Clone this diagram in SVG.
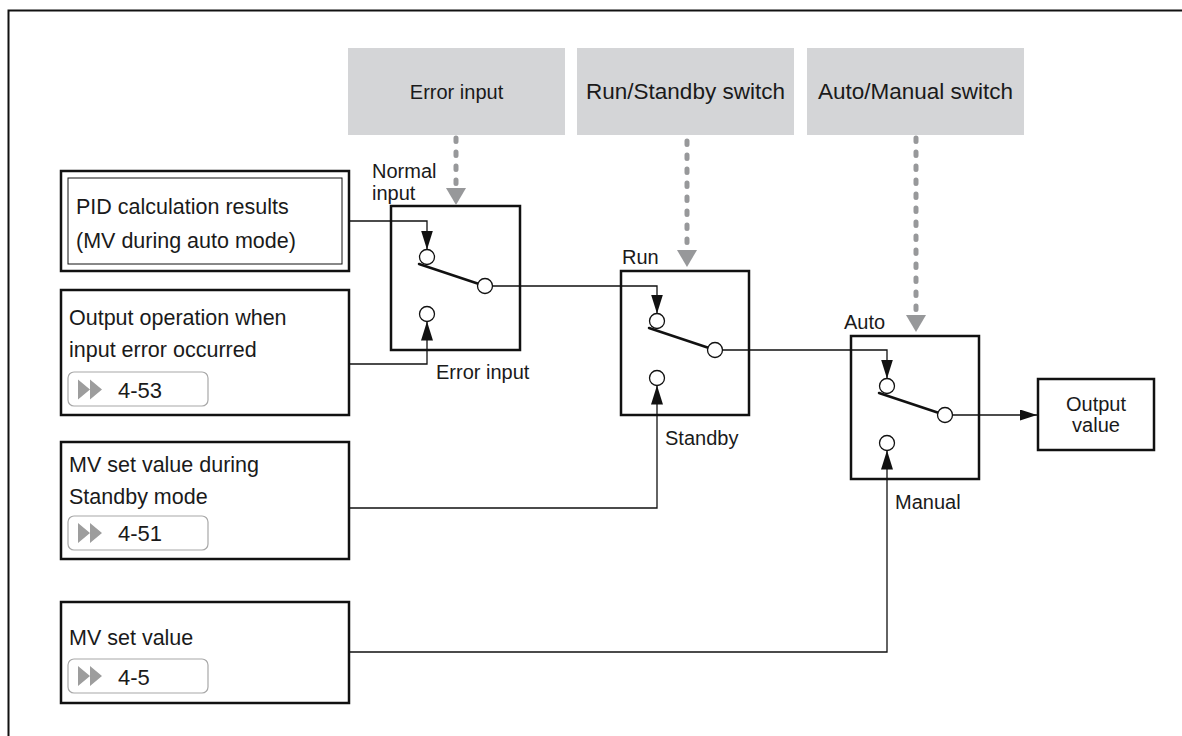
<svg xmlns="http://www.w3.org/2000/svg" width="1182" height="736" viewBox="0 0 1182 736">
<defs>
<style>
text{font-family:"Liberation Sans",Arial,sans-serif;fill:#1a1a1a}
.t20{font-size:20px}
.t22{font-size:21.5px}
.gbox{fill:#d4d5d7}
.box{fill:#fff;stroke:#111;stroke-width:2.5}
.thin{fill:none;stroke:#111;stroke-width:1}
.badge{fill:#fff;stroke:#a8a8a8;stroke-width:1.2}
.tri{fill:#9d9d9d}
.gdash{stroke:#97989a;stroke-width:5;stroke-linecap:round;stroke-dasharray:3.5 10.5;fill:none}
.garrow{fill:#97989a}
.conn{fill:none;stroke:#111;stroke-width:1.3}
.lever{stroke:#111;stroke-width:2.5;stroke-linecap:round}
.pin{fill:#fff;stroke:#111;stroke-width:1.3}
</style>
<marker id="arr" markerUnits="userSpaceOnUse" markerWidth="19" markerHeight="12" refX="19" refY="6" orient="auto">
<path d="M0,0 L19,6 L0,12 z" fill="#111"/>
</marker>
<marker id="arrS" markerUnits="userSpaceOnUse" markerWidth="17" markerHeight="11" refX="17" refY="5.5" orient="auto">
<path d="M0,0 L17,5.5 L0,11 z" fill="#111"/>
</marker>
</defs>
<rect width="1182" height="736" fill="#fff"/>
<g id="frame">
<path d="M8.5,736 V10.5 H1182" fill="none" stroke="#111" stroke-width="2"/>
</g>

<g id="sig-error">
<rect class="gbox" x="348" y="48" width="217" height="87"/>
<text class="t20" x="456.5" y="99" text-anchor="middle">Error input</text>
</g>
<g id="sig-runstandby">
<rect class="gbox" x="577" y="48" width="217" height="87"/>
<text x="685.5" y="99" text-anchor="middle" font-size="22.5">Run/Standby switch</text>
</g>
<g id="sig-automanual">
<rect class="gbox" x="807" y="48" width="217" height="87"/>
<text x="915.5" y="99" text-anchor="middle" font-size="22.5">Auto/Manual switch</text>
</g>

<g id="pid">
<rect class="box" x="61" y="171" width="288" height="100"/>
<rect class="thin" x="68" y="178" width="274" height="86"/>
<text class="t22" x="76" y="214">PID calculation results</text>
<text class="t22" x="76" y="248">(MV during auto mode)</text>
</g>
<g id="errop">
<rect class="box" x="61" y="290" width="288" height="125"/>
<text class="t22" x="69" y="325">Output operation when</text>
<text class="t22" x="69" y="357">input error occurred</text>
<rect class="badge" x="68" y="372" width="140" height="34" rx="6"/>
<path class="tri" d="M78,379.5 L90,389.5 L78,399.5 z M90,379.5 L102,389.5 L90,399.5 z"/>
<text x="118" y="398" font-size="22">4-53</text>
</g>
<g id="standbymv">
<rect class="box" x="61" y="442" width="288" height="117"/>
<text class="t22" x="69" y="472">MV set value during</text>
<text class="t22" x="69" y="504">Standby mode</text>
<rect class="badge" x="68" y="516" width="140" height="34" rx="6"/>
<path class="tri" d="M78,523 L90,533 L78,543 z M90,523 L102,533 L90,543 z"/>
<text x="118" y="541" font-size="22">4-51</text>
</g>
<g id="mvset">
<rect class="box" x="61" y="602" width="288" height="101"/>
<text class="t22" x="69" y="645">MV set value</text>
<rect class="badge" x="68" y="659" width="140" height="34" rx="6"/>
<path class="tri" d="M78,666 L90,676 L78,686 z M90,666 L102,676 L90,686 z"/>
<text x="118" y="685" font-size="22">4-5</text>
</g>

<g id="switch-error">
<rect class="box" x="391" y="206" width="129" height="144"/>
<text class="t20" x="372" y="178">Normal</text>
<text class="t20" x="372" y="199.5">input</text>
<text class="t20" x="436" y="379">Error input</text>
</g>
<g id="switch-run">
<rect class="box" x="621" y="271" width="128" height="144"/>
<text class="t20" x="622" y="264">Run</text>
<text class="t20" x="665" y="445">Standby</text>
</g>
<g id="switch-auto">
<rect class="box" x="851" y="336" width="128" height="143"/>
<text class="t20" x="844" y="329">Auto</text>
<text class="t20" x="895" y="509">Manual</text>
</g>
<g id="output">
<rect class="box" x="1038" y="379" width="116" height="71"/>
<text class="t20" x="1096" y="410.5" text-anchor="middle">Output</text>
<text class="t20" x="1096" y="431.5" text-anchor="middle">value</text>
</g>

<g id="connectors">
<path class="gdash" d="M456,138 V186"/>
<path class="garrow" d="M446,188 L466,188 L456,205 z"/>
<path class="gdash" d="M687,141 V248"/>
<path class="garrow" d="M677,250 L697,250 L687,267 z"/>
<path class="gdash" d="M916,138 V313"/>
<path class="garrow" d="M906,315 L926,315 L916,332 z"/>

<path class="conn" d="M349,221 H427 V249.5" marker-end="url(#arr)"/>
<path class="conn" d="M349,364 H427 V321.5" marker-end="url(#arr)"/>
<path class="conn" d="M492.5,286 H657 V313.5" marker-end="url(#arr)"/>
<path class="conn" d="M349,508 H657 V385.5" marker-end="url(#arr)"/>
<path class="conn" d="M722.5,350 H887 V378.5" marker-end="url(#arr)"/>
<path class="conn" d="M349,652 H887 V450.5" marker-end="url(#arr)"/>
<path class="conn" d="M952.5,415 H1037" marker-end="url(#arrS)"/>

<line class="lever" x1="419" y1="264" x2="485" y2="286"/>
<circle class="pin" cx="427" cy="257" r="7.5"/>
<circle class="pin" cx="485" cy="286" r="7.5"/>
<circle class="pin" cx="427" cy="314" r="7.5"/>

<line class="lever" x1="649" y1="328" x2="715" y2="350"/>
<circle class="pin" cx="657" cy="321" r="7.5"/>
<circle class="pin" cx="715" cy="350" r="7.5"/>
<circle class="pin" cx="657" cy="378" r="7.5"/>

<line class="lever" x1="879" y1="393" x2="945" y2="415"/>
<circle class="pin" cx="887" cy="386" r="7.5"/>
<circle class="pin" cx="945" cy="415" r="7.5"/>
<circle class="pin" cx="887" cy="443" r="7.5"/>
</g>
</svg>
